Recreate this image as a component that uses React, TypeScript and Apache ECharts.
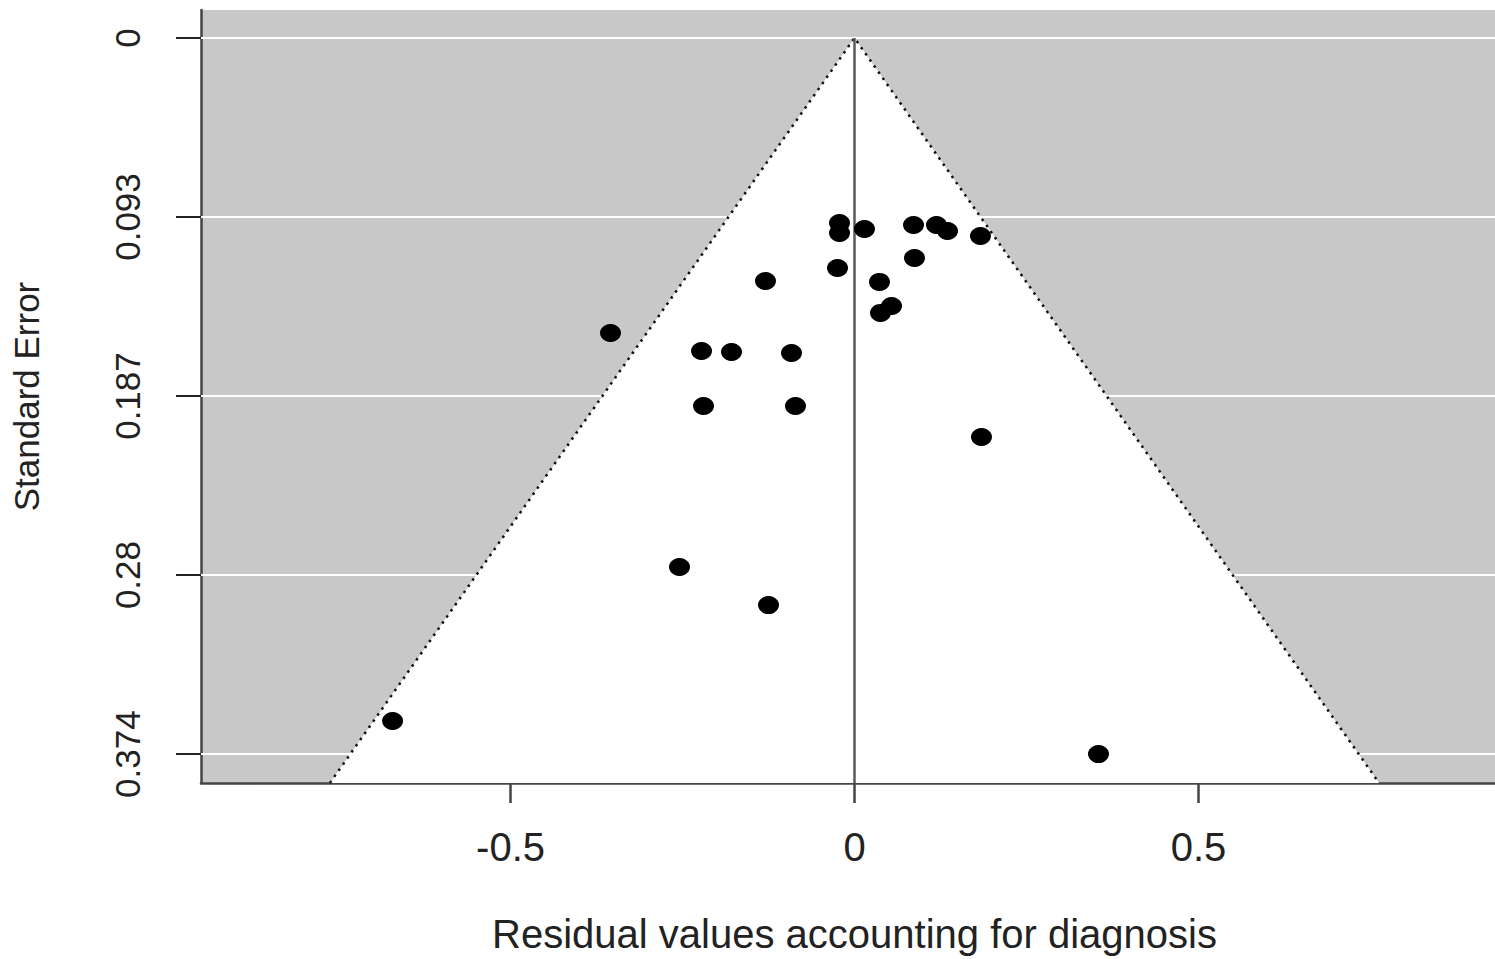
import React, { useEffect, useRef } from "react";
import * as echarts from "echarts";

// Residual values (x) and standard errors (y)
const residuals = [
  -0.6715, 0.3547, -0.3547, -0.2224, -0.1788, -0.0916, -0.2195, -0.0858,
  0.1846, -0.2544, -0.125, -0.1294, -0.0247, 0.0363, 0.0538, 0.0378,
  0.0872, -0.0218, -0.0218, 0.0145, 0.0858, 0.1192, 0.1352, 0.1831,
];
const standardErrors = [
  0.3567, 0.374, 0.1541, 0.1635, 0.164, 0.1645, 0.1922, 0.1922,
  0.2084, 0.2763, 0.2962, 0.1269, 0.1201, 0.1274, 0.14, 0.1436,
  0.1149, 0.0966, 0.1019, 0.0998, 0.0977, 0.0977, 0.1008, 0.1034,
];

const xTickValues = [-0.5, 0, 0.5];
const xTickLabels = ["-0.5", "0", "0.5"];
const yTickValues = [0, 0.0935, 0.187, 0.2805, 0.374];
const yTickLabels = ["0", "0.093", "0.187", "0.28", "0.374"];

const X_MIN = -0.95;
const X_MAX = 0.95;
const Y_MIN = -0.0146;
const Y_MAX = 0.3891;
const Z = 1.96;

const FONT = "'Liberation Sans', Arial, Helvetica, sans-serif";

function labelFor(values: number[], labels: string[], v: number) {
  let best = 0;
  let bd = Infinity;
  values.forEach((t, i) => {
    const d = Math.abs(t - v);
    if (d < bd) {
      bd = d;
      best = i;
    }
  });
  return labels[best];
}

export default function App() {
  const ref = useRef<HTMLDivElement>(null);
  useEffect(() => {
    if (!ref.current) return;
    const chart = echarts.init(ref.current, undefined, { renderer: "svg" });
    const points = residuals.map((x, i) => [x, standardErrors[i]]);
    const edge = [
      [-Z * Y_MAX, Y_MAX],
      [0, 0],
      [Z * Y_MAX, Y_MAX],
    ];
    chart.setOption({
      animation: false,
      backgroundColor: "#ffffff",
      grid: {
        left: 201,
        top: 10,
        bottom: 176,
        right: 0,
        show: true,
        backgroundColor: "#c8c8c8",
        borderWidth: 0,
      },
      xAxis: {
        type: "value",
        min: X_MIN,
        max: X_MAX,
        name: "Residual values accounting for diagnosis",
        nameLocation: "middle",
        nameGap: 131,
        nameTextStyle: { fontFamily: FONT, fontSize: 40, color: "#222" },
        axisLine: { show: true, onZero: false, lineStyle: { color: "#444", width: 2.5 } },
        axisTick: {
          show: true,
          length: 20,
          customValues: xTickValues,
          lineStyle: { color: "#444", width: 2.5 },
        },
        axisLabel: {
          customValues: xTickValues,
          margin: 44,
          fontFamily: FONT,
          fontSize: 40,
          color: "#222",
          formatter: (v: number) => labelFor(xTickValues, xTickLabels, v),
        },
        splitLine: { show: false },
      },
      yAxis: {
        type: "value",
        inverse: true,
        min: Y_MIN,
        max: Y_MAX,
        name: "Standard Error",
        nameLocation: "middle",
        nameRotate: 90,
        nameGap: 157,
        nameTextStyle: { fontFamily: FONT, fontSize: 35, color: "#222" },
        axisLine: { show: true, onZero: false, lineStyle: { color: "#444", width: 2.5 } },
        axisTick: {
          show: true,
          length: 25,
          customValues: yTickValues,
          lineStyle: { color: "#222", width: 2 },
        },
        axisLabel: {
          customValues: yTickValues,
          rotate: 90,
          margin: 56,
          fontFamily: FONT,
          fontSize: 35,
          color: "#222",
          formatter: (v: number) => labelFor(yTickValues, yTickLabels, v),
        },
        splitLine: { show: false },
      },
      series: [
        {
          type: "line",
          data: [],
          silent: true,
          z: 1,
          markLine: {
            silent: true,
            z: 1,
            precision: 6,
            symbol: "none",
            label: { show: false },
            lineStyle: { color: "#ffffff", width: 2, type: "solid" },
            data: yTickValues.map((v) => ({ yAxis: v })),
          },
        },
        {
          type: "custom",
          silent: true,
          z: 2,
          data: [[0, 0]],
          renderItem: (_params: any, api: any) => {
            const apex = api.coord([0, 0]);
            const bl = api.coord([-Z * Y_MAX, Y_MAX]);
            const br = api.coord([Z * Y_MAX, Y_MAX]);
            return {
              type: "polygon",
              shape: { points: [apex, bl, br] },
              style: { fill: "#ffffff" },
            };
          },
        },
        {
          type: "line",
          data: edge,
          silent: true,
          z: 3,
          symbol: "none",
          lineStyle: { color: "#111", width: 2.5, type: [2.5, 5] },
        },
        {
          type: "line",
          data: [
            [0, 0],
            [0, Y_MAX],
          ],
          silent: true,
          z: 3,
          symbol: "none",
          lineStyle: { color: "#5a5a5a", width: 2.5 },
        },
        {
          type: "scatter",
          data: points,
          z: 4,
          symbol: "circle",
          symbolSize: [21, 18],
          itemStyle: { color: "#000", opacity: 1 },
        },
      ],
    });
    return () => chart.dispose();
  }, []);
  return (
    <div style={{ position: "absolute", left: 0, top: 0, width: 1495, height: 959, overflow: "hidden" }}>
      <div
        ref={ref}
        style={{ position: "absolute", left: 0, top: 0, width: 1508, height: 959 }}
      />
    </div>
  );
}
